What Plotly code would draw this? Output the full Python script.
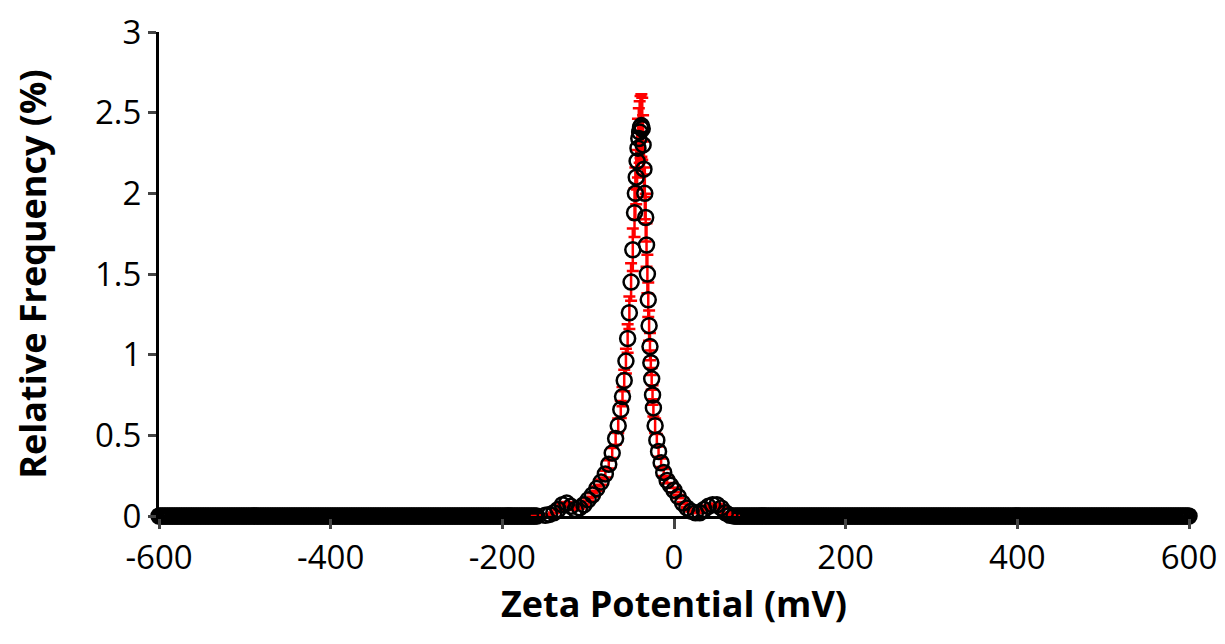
import numpy as np
import plotly.graph_objects as go

# Peak region readings (mV, %)
peak_x = [-160, -150, -145, -140, -135, -130, -125, -120, -115, -110, -105, -100, -95, -90,
          -85, -80, -76, -72, -68, -65, -62, -60, -58, -56, -54, -52, -50, -48, -46, -45,
          -44, -43, -42, -41, -40, -39, -38,
          -37, -36, -35, -34, -33, -32, -31, -30, -29, -28, -27, -26, -25, -24, -22, -20,
          -18, -15, -12, -8, -4, 0, 5, 10, 15, 20, 25, 30, 35, 40, 45, 50, 55, 60, 65, 70]
peak_y = [0, 0.005, 0.01, 0.02, 0.04, 0.07, 0.08, 0.06, 0.04, 0.05, 0.07, 0.10, 0.13, 0.17,
          0.21, 0.26, 0.32, 0.39, 0.48, 0.56, 0.66, 0.74, 0.84, 0.96, 1.10, 1.26, 1.45, 1.65,
          1.88, 2.00, 2.10, 2.20, 2.28, 2.34, 2.38, 2.41, 2.42,
          2.40, 2.30, 2.15, 2.00, 1.85, 1.68, 1.50, 1.34, 1.18, 1.05, 0.95, 0.85, 0.75, 0.67,
          0.56, 0.47, 0.40, 0.33, 0.27, 0.22, 0.19, 0.16, 0.12, 0.08, 0.05, 0.03, 0.02, 0.02,
          0.04, 0.06, 0.07, 0.07, 0.05, 0.02, 0.005, 0]

# flat zero baseline either side of the peak
base_x = np.concatenate([np.arange(-600, -160, 2), np.arange(72, 602, 2)])
base_y = np.zeros(len(base_x))

x_ticks = [-600, -400, -200, 0, 200, 400, 600]
x_labels = ['-600', '-400', '-200', '0', '200', '400', '600']
y_ticks = [0, 0.5, 1, 1.5, 2, 2.5, 3]

fig = go.Figure()
marker = dict(symbol='circle-open', size=15, color='black', line=dict(width=2.5, color='black'))
fig.add_trace(go.Scatter(x=base_x, y=base_y, mode='markers', marker=marker, showlegend=False,
                         cliponaxis=False))
fig.add_trace(go.Scatter(x=peak_x, y=peak_y, mode='markers', marker=marker, showlegend=False,
                         error_y=dict(type='percent', value=8, color='red', thickness=2.5, width=6),
                         cliponaxis=False))

fig.update_xaxes(range=[-600, 600], tickvals=x_ticks, ticktext=x_labels, ticks='outside',
                 ticklen=10, tickwidth=3, automargin=False,
                 showline=True, linewidth=3, linecolor='black', showgrid=False, zeroline=False,
                 title=dict(text='<b>Zeta Potential (mV)</b>', font=dict(size=36), standoff=0),
                 tickfont=dict(size=33))
fig.update_yaxes(range=[0, 3], tickvals=y_ticks, ticks='outside', ticklen=8, tickwidth=3,
                 automargin=False, ticklabeloverflow='allow',
                 showline=True, linewidth=3, linecolor='black', showgrid=False, zeroline=False,
                 title=dict(text='<b>Relative Frequency (%)</b>', font=dict(size=36), standoff=40),
                 tickfont=dict(size=33))
fig.update_layout(width=1225, height=644, plot_bgcolor='white', paper_bgcolor='white',
                  margin=dict(l=151, r=44, t=24, b=136),
                  font=dict(family='Open Sans, sans-serif', color='black'))
fig.write_html("out.html")
